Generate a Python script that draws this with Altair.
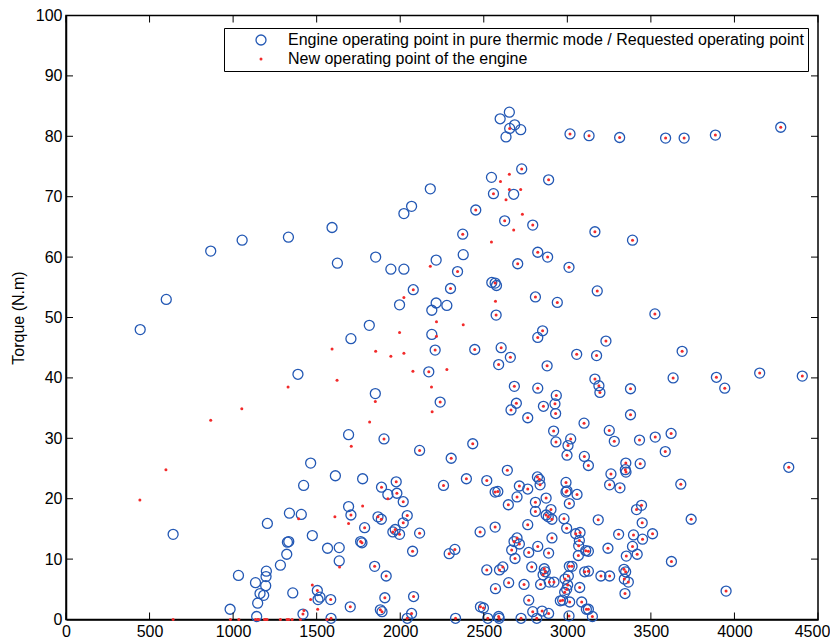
import altair as alt
import pandas as pd

S1 = "Engine operating point in pure thermic mode / Requested operating point"
S2 = "New operating point of the engine"

x_ticks = [0, 500, 1000, 1500, 2000, 2500, 3000, 3500, 4000, 4500]
y_ticks = [0, 10, 20, 30, 40, 50, 60, 70, 80, 90, 100]

# points where requested and new operating points coincide (circle + dot)
both_speed = [3016, 3130, 3313, 3588, 3699, 3886, 4277, 2655, 2727, 2888, 2558, 2452, 2625, 2793, 2374,
              3165, 3390, 2823, 2882, 2703, 3010, 2343, 2568, 2301, 2078, 3179, 2809, 2940, 3524, 2574,
              2852, 2823, 3231, 2604, 2446, 2209, 3687, 3056, 3175, 2659, 2589, 2879, 2171, 4151, 4406,
              3892, 3633, 3165, 3189, 2683, 2823, 3942, 3378, 3195, 2934, 2239, 2695, 2926, 2857, 2663,
              2930, 3378, 2763, 3100, 3251, 2918, 3621, 3526, 3020, 1903, 3432, 3281, 2932, 2434, 3004,
              2116, 3586, 2998, 3102, 2305, 3350, 3436, 3126, 4325, 3347, 2641, 3351, 3261, 2821, 2396,
              2833, 2518, 1976, 2992, 3679, 3253, 2837, 2259, 2713, 1888, 3315, 2763, 2998, 2584, 2568,
              2992, 1980, 3058, 2699, 2873, 2018, 2809, 3012, 2647, 3444, 3414, 2902, 2809, 2873, 1705,
              2042, 1867, 2886, 2980, 2908, 3741, 1887, 3185, 3448, 2018, 2763, 2568, 1787, 2996, 1970,
              2478, 1956, 2116, 3076, 3050, 3510, 3307, 1996, 3396, 2699, 2908, 3450, 3072, 2681, 1763,
              1771, 2713, 3068, 2823, 3390, 3243, 2327, 2667, 3110, 3126, 2074, 2769, 2888, 2293, 3418,
              3066, 3353, 2687, 3623, 3012, 3028, 1847, 2614, 2787, 2862, 3339, 2594, 2518, 3126, 2868,
              3104, 3349, 2855, 3201, 3253, 3006, 1916, 2986, 3341, 2892, 2920, 3365, 2649, 2741, 2840,
              3002, 3074, 2570, 2996, 1504, 3950, 2984, 3345, 2080, 1908, 1584, 2972, 2769, 2958, 3014,
              3086, 2480, 1701, 2498, 3126, 3114, 1881, 2849, 1891, 2793, 2068, 2888, 1418, 3010, 2589,
              3150, 2042, 2331, 2524, 2592, 2723, 2817, 1586]
both_torque = [80.4, 80.1, 79.8, 79.7, 79.7, 80.2, 81.5, 81.3, 74.6, 72.8, 70.5, 67.8, 66.0, 65.3, 63.8,
               64.2, 62.8, 60.8, 60.0, 58.9, 58.3, 57.6, 55.7, 54.8, 54.6, 54.4, 53.4, 52.5, 50.6, 50.4,
               47.8, 46.7, 46.1, 45.0, 44.7, 44.6, 44.4, 43.9, 43.7, 43.4, 42.2, 42.0, 41.0, 40.8, 40.3,
               40.1, 40.0, 39.8, 38.7, 38.6, 38.3, 38.3, 38.2, 37.6, 37.1, 36.0, 35.8, 35.7, 35.3, 34.7,
               34.1, 33.9, 33.4, 32.5, 31.3, 31.2, 30.8, 30.2, 29.9, 29.9, 29.7, 29.5, 29.4, 29.1, 28.8,
               28.0, 27.8, 27.2, 27.0, 26.7, 25.9, 25.8, 25.5, 25.2, 24.8, 24.7, 24.4, 24.1, 23.6, 23.3,
               23.2, 23.0, 22.8, 22.7, 22.4, 22.3, 22.3, 22.2, 22.1, 21.9, 21.8, 21.6, 21.3, 21.2, 21.1,
               21.1, 20.9, 20.7, 20.3, 20.1, 19.5, 19.4, 19.2, 19.0, 18.9, 18.2, 18.2, 17.9, 17.3, 17.3,
               17.2, 17.0, 17.0, 16.7, 16.6, 16.6, 16.6, 16.5, 16.0, 16.0, 15.7, 15.3, 15.2, 15.1, 14.9,
               14.5, 14.5, 14.3, 14.4, 14.2, 14.2, 14.1, 14.1, 14.0, 13.5, 13.5, 13.3, 13.1, 12.9, 12.9,
               12.7, 12.5, 12.2, 12.1, 12.1, 11.8, 11.6, 11.5, 11.4, 11.3, 11.3, 11.1, 11.0, 10.9, 10.8,
               10.6, 10.5, 10.1, 9.6, 8.8, 8.8, 8.8, 8.7, 8.7, 8.4, 8.3, 8.2, 8.2, 8.0, 7.9,
               7.9, 7.9, 7.4, 7.2, 7.2, 7.2, 7.2, 6.7, 6.7, 6.2, 6.2, 6.2, 6.1, 5.8, 5.8,
               5.7, 5.3, 5.1, 5.0, 4.8, 4.7, 4.5, 4.3, 3.8, 3.6, 3.3, 3.2, 3.2, 3.1, 2.9,
               2.9, 2.1, 2.1, 1.9, 1.7, 1.7, 1.6, 1.4, 1.3, 1.3, 1.0, 1.0, 0.9, 0.6, 0.5,
               0.5, 0.2, 0.2, 0.2, 0.2, 0.2, 0.2, 0.2]

# requested operating points whose new point moved elsewhere (circle only)
circle_speed = [2653, 2598, 2685, 2721, 2633, 2546, 2679, 2180, 2068, 2022, 1592, 1331, 1054, 866, 2377,
                1853, 2215, 1624, 1944, 2022, 2548, 2576, 600, 2215, 1996, 2279, 2189, 1815, 444, 2189,
                1705, 1388, 1851, 1691, 1464, 1612, 1775, 1422, 1926, 1691, 1337, 1408, 1205, 641, 1474,
                1333, 1325, 1635, 1565, 1321, 1635, 1283, 1199, 1032, 1197, 1134, 1195, 1357, 1161, 1183,
                1520, 1508, 1147, 982, 1141]
circle_torque = [84.0, 82.9, 81.9, 81.1, 79.9, 73.2, 70.4, 71.3, 68.4, 67.2, 64.9, 63.3, 62.8, 61.0, 60.4,
                 60.0, 59.5, 59.0, 58.0, 58.0, 55.8, 55.3, 53.0, 52.4, 52.1, 52.0, 51.2, 48.7, 48.0, 47.2,
                 46.5, 40.6, 37.4, 30.6, 25.9, 23.8, 23.3, 22.2, 20.7, 18.7, 17.6, 17.4, 15.9, 14.1, 13.9,
                 12.9, 12.8, 11.9, 11.8, 10.8, 9.7, 9.0, 8.0, 7.3, 7.1, 6.1, 5.6, 4.4, 4.3, 4.0,
                 3.7, 3.3, 2.7, 1.7, 0.5]

# new operating points away from their requested point (dot only)
dot_speed = [2653, 2600, 2653, 2721, 2633, 2731, 2679, 2546, 2180, 2022, 2570, 2217, 2377, 1996, 2217,
             1592, 1853, 2022, 1944, 2279, 2076, 1622, 2187, 1329, 1851, 1052, 2191, 866, 1817, 1707,
             598, 1926, 442, 1775, 1609, 1392, 1691, 1637, 1474, 1464, 1506, 1424,
             641, 984, 1034, 1134, 1147, 1153, 1188, 1195, 1203, 1283, 1323, 1333, 1353, 1403, 1562]
dot_torque = [73.7, 72.5, 71.2, 71.2, 69.5, 67.1, 64.5, 62.5, 58.5, 53.3, 52.7, 49.3, 48.8, 47.5, 46.9,
              44.8, 44.4, 44.1, 43.6, 41.4, 41.1, 39.6, 38.5, 38.5, 36.1, 34.9, 34.4, 33.0, 32.7, 28.7,
              24.8, 20.0, 19.8, 18.8, 17.0, 16.7, 15.9, 8.7, 5.7, 3.3, 1.7, 1.5,
              0, 0, 0, 0, 0, 0, 0, 0, 0, 0, 0, 0, 0, 0, 0]

rows = []
for s, t in zip(both_speed + circle_speed, both_torque + circle_torque):
    rows.append({"speed": s, "torque": t, "series": S1})
for s, t in zip(both_speed + dot_speed, both_torque + dot_torque):
    rows.append({"speed": s, "torque": t, "series": S2})
df = pd.DataFrame(rows)

FONT = "Liberation Sans"
BLUE = "#2358b4"
RED = "#f22a2a"
W, H = 752, 604

x_axis = alt.Axis(values=x_ticks, title=None, ticks=False, grid=False, format="d",
                  labelFont=FONT, labelFontSize=16, labelColor="black", labelPadding=4,
                  labelOffset=alt.condition("datum.value == 4500", alt.value(-6), alt.value(0)),
                  labelFlush=False, labelOverlap=False, domainColor="black", domainWidth=1.5)
y_axis = alt.Axis(values=y_ticks, title="Torque (N.m)", ticks=False, grid=False, format="d",
                  labelFont=FONT, labelFontSize=16, labelColor="black", labelPadding=4,
                  labelFlush=False, labelOverlap=False, domainColor="black", domainWidth=1.5,
                  titleFont=FONT, titleFontSize=16, titleFontWeight="normal",
                  titleColor="black", titlePadding=9)
x_scale = alt.Scale(domain=[0, 4500], nice=False, zero=False)
y_scale = alt.Scale(domain=[0, 100], nice=False, zero=False)

leg = alt.Legend(
    title=None, orient="none", legendX=158, legendY=12.5,
    strokeColor="black", fillColor="white", padding=4,
    labelFont=FONT, labelFontSize=16, labelColor="black", labelLimit=1000,
    symbolOffset=25, labelOffset=19, rowPadding=3,
)
dom = [S1, S2]

points = alt.Chart(df).mark_point(shape="circle", opacity=1).encode(
    x=alt.X("speed:Q", scale=x_scale, axis=x_axis),
    y=alt.Y("torque:Q", scale=y_scale, axis=y_axis),
    stroke=alt.Stroke("series:N", scale=alt.Scale(domain=dom, range=[BLUE, RED]), legend=leg),
    fill=alt.Fill("series:N", scale=alt.Scale(domain=dom, range=["rgba(255,255,255,0)", RED]), legend=leg),
    size=alt.Size("series:N", scale=alt.Scale(domain=dom, range=[100, 9]), legend=leg),
    strokeWidth=alt.StrokeWidth("series:N", scale=alt.Scale(domain=dom, range=[1.3, 0]), legend=leg),
)

xt = pd.DataFrame({"speed": x_ticks})
yt = pd.DataFrame({"torque": y_ticks})
tick_bottom = alt.Chart(xt).mark_rule(color="black", strokeWidth=1).encode(
    x=alt.X("speed:Q", scale=x_scale, axis=x_axis), y=alt.value(H), y2=alt.value(H - 7))
tick_top = alt.Chart(xt).mark_rule(color="black", strokeWidth=1).encode(
    x=alt.X("speed:Q", scale=x_scale, axis=x_axis), y=alt.value(0), y2=alt.value(7))
tick_left = alt.Chart(yt).mark_rule(color="black", strokeWidth=1).encode(
    y=alt.Y("torque:Q", scale=y_scale, axis=y_axis), x=alt.value(0), x2=alt.value(7))
tick_right = alt.Chart(yt).mark_rule(color="black", strokeWidth=1).encode(
    y=alt.Y("torque:Q", scale=y_scale, axis=y_axis), x=alt.value(W), x2=alt.value(W - 7))

chart = alt.layer(points, tick_bottom, tick_top, tick_left, tick_right).properties(
    width=W, height=H,
    background="white",
    autosize=alt.AutoSizeParams(type="none"),
    padding={"left": 58, "top": 7.5, "right": 12, "bottom": 20},
).configure_view(stroke="black", strokeWidth=1.5)

chart.save("out.html", embed_options={"renderer": "svg", "actions": False})
